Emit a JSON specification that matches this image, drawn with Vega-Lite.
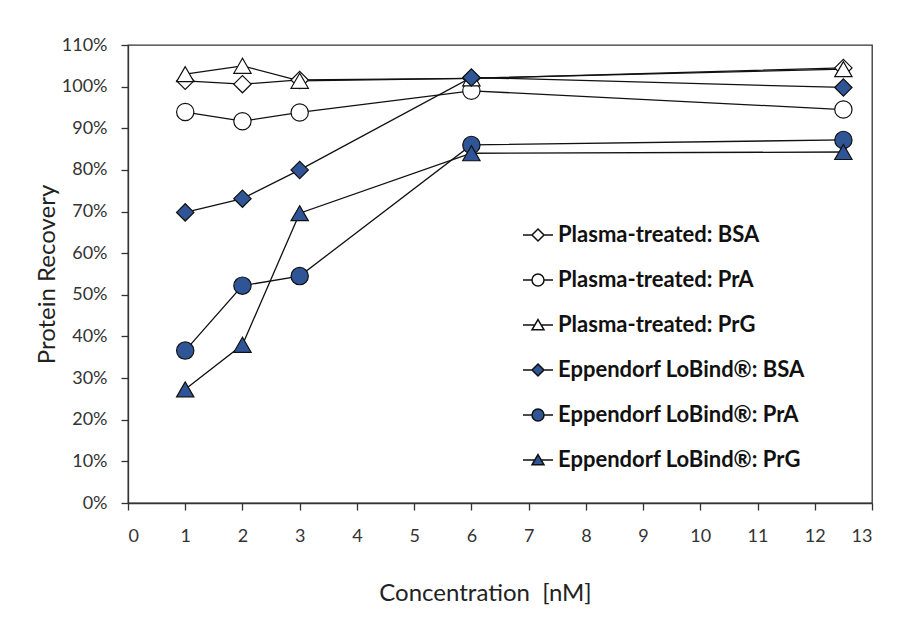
{
  "$schema": "https://vega.github.io/schema/vega-lite/v6.json",
  "autosize": {"type": "none"},
  "width": 744,
  "height": 458,
  "padding": {"left": 128, "top": 45, "right": 28, "bottom": 118},
  "background": "white",
  "config": {
    "view": {"stroke": "#333333", "strokeWidth": 1.3},
    "font": "Lato",
    "axis": {
      "labelFont": "Lato", "titleFont": "Lato", "labelColor": "#333333", "titleColor": "#222222",
      "domainColor": "#333333", "tickColor": "#333333", "domainWidth": 1.3, "tickWidth": 1.3,
      "grid": false, "labelFontSize": 18, "titleFontSize": 24, "titleFontWeight": "normal"
    },
    "legend": {
      "labelFont": "Lato", "labelFontSize": 22, "labelFontWeight": "bold", "labelColor": "#111111", "labelLimit": 400
    }
  },
  "data": {
    "values": [
      {"series": "Plasma-treated: BSA", "conc": 1, "rec": 1.014},
      {"series": "Plasma-treated: BSA", "conc": 2, "rec": 1.006},
      {"series": "Plasma-treated: BSA", "conc": 3, "rec": 1.016},
      {"series": "Plasma-treated: BSA", "conc": 6, "rec": 1.020},
      {"series": "Plasma-treated: BSA", "conc": 12.5, "rec": 1.045},
      {"series": "Plasma-treated: PrA", "conc": 1, "rec": 0.939},
      {"series": "Plasma-treated: PrA", "conc": 2, "rec": 0.917},
      {"series": "Plasma-treated: PrA", "conc": 3, "rec": 0.938},
      {"series": "Plasma-treated: PrA", "conc": 6, "rec": 0.990},
      {"series": "Plasma-treated: PrA", "conc": 12.5, "rec": 0.945},
      {"series": "Plasma-treated: PrG", "conc": 1, "rec": 1.030},
      {"series": "Plasma-treated: PrG", "conc": 2, "rec": 1.050},
      {"series": "Plasma-treated: PrG", "conc": 3, "rec": 1.014},
      {"series": "Plasma-treated: PrG", "conc": 6, "rec": 1.020},
      {"series": "Plasma-treated: PrG", "conc": 12.5, "rec": 1.042},
      {"series": "Eppendorf LoBind®: BSA", "conc": 1, "rec": 0.698},
      {"series": "Eppendorf LoBind®: BSA", "conc": 2, "rec": 0.731},
      {"series": "Eppendorf LoBind®: BSA", "conc": 3, "rec": 0.800},
      {"series": "Eppendorf LoBind®: BSA", "conc": 6, "rec": 1.022},
      {"series": "Eppendorf LoBind®: BSA", "conc": 12.5, "rec": 0.998},
      {"series": "Eppendorf LoBind®: PrA", "conc": 1, "rec": 0.366},
      {"series": "Eppendorf LoBind®: PrA", "conc": 2, "rec": 0.522},
      {"series": "Eppendorf LoBind®: PrA", "conc": 3, "rec": 0.545},
      {"series": "Eppendorf LoBind®: PrA", "conc": 6, "rec": 0.860},
      {"series": "Eppendorf LoBind®: PrA", "conc": 12.5, "rec": 0.872},
      {"series": "Eppendorf LoBind®: PrG", "conc": 1, "rec": 0.273},
      {"series": "Eppendorf LoBind®: PrG", "conc": 2, "rec": 0.380},
      {"series": "Eppendorf LoBind®: PrG", "conc": 3, "rec": 0.696},
      {"series": "Eppendorf LoBind®: PrG", "conc": 6, "rec": 0.840},
      {"series": "Eppendorf LoBind®: PrG", "conc": 12.5, "rec": 0.843}
    ]
  },
  "encoding": {
    "x": {
      "field": "conc", "type": "quantitative",
      "scale": {"domain": [0, 13], "nice": false},
      "axis": {"values": [0,1,2,3,4,5,6,7,8,9,10,11,12,13], "tickSize": 7, "labelPadding": 17, "title": "Concentration\u00a0 [nM]", "titlePadding": 36, "titleX": 357}
    },
    "y": {
      "field": "rec", "type": "quantitative",
      "scale": {"domain": [0, 1.1], "nice": false},
      "axis": {"values": [0,0.1,0.2,0.3,0.4,0.5,0.6,0.7,0.8,0.9,1.0,1.1], "format": ".0%", "tickSize": 7, "labelPadding": 14, "title": "Protein Recovery", "titlePadding": 2}
    }
  },
  "layer": [
    {
      "mark": {"type": "line", "color": "#111111", "strokeWidth": 1.3},
      "encoding": {"detail": {"field": "series"}}
    },
    {
      "mark": {"type": "point", "filled": true, "size": 300, "stroke": "#111111", "strokeWidth": 1.2, "opacity": 1},
      "encoding": {
        "shape": {
          "field": "series", "type": "nominal",
          "scale": {
            "domain": ["Plasma-treated: BSA", "Plasma-treated: PrA", "Plasma-treated: PrG", "Eppendorf LoBind®: BSA", "Eppendorf LoBind®: PrA", "Eppendorf LoBind®: PrG"],
            "range": ["diamond", "circle", "triangle-up", "diamond", "circle", "triangle-up"]
          },
          "legend": null
        },
        "fill": {
          "field": "series", "type": "nominal",
          "scale": {
            "domain": ["Plasma-treated: BSA", "Plasma-treated: PrA", "Plasma-treated: PrG", "Eppendorf LoBind®: BSA", "Eppendorf LoBind®: PrA", "Eppendorf LoBind®: PrG"],
            "range": ["white", "white", "white", "#2F5597", "#2F5597", "#2F5597"]
          },
          "legend": null
        }
      }
    },
    {
      "transform": [{"filter": "false"}],
      "mark": {"type": "point", "filled": true, "size": 144, "stroke": "#111111", "strokeWidth": 1.2, "opacity": 1},
      "encoding": {
        "shape": {
          "field": "series", "type": "nominal",
          "scale": {
            "domain": ["Plasma-treated: BSA", "Plasma-treated: PrA", "Plasma-treated: PrG", "Eppendorf LoBind®: BSA", "Eppendorf LoBind®: PrA", "Eppendorf LoBind®: PrG"],
            "range": [
              "M0,-1L1,0L0,1L-1,0Z M-2.5,0H-1 M1,0H2.5",
              "M1,0A1,1 0 1,1 -1,0A1,1 0 1,1 1,0Z M-2.5,0H-1 M1,0H2.5",
              "M0,-0.9L1,0.8L-1,0.8Z M-2.5,0H-0.53 M0.53,0H2.5",
              "M0,-1L1,0L0,1L-1,0Z M-2.5,0H-1 M1,0H2.5",
              "M1,0A1,1 0 1,1 -1,0A1,1 0 1,1 1,0Z M-2.5,0H-1 M1,0H2.5",
              "M0,-0.9L1,0.8L-1,0.8Z M-2.5,0H-0.53 M0.53,0H2.5"
            ]
          },
          "legend": {
            "title": null, "orient": "none", "legendX": 399, "legendY": 179, "padding": 0,
            "symbolSize": 144, "labelOffset": 9, "rowPadding": 23,
            "encode": {"symbols": {"stroke": {"value": "#111111"}, "strokeWidth": {"value": 1.2}, "opacity": {"value": 1}}}
          }
        },
        "fill": {
          "field": "series", "type": "nominal",
          "scale": {
            "domain": ["Plasma-treated: BSA", "Plasma-treated: PrA", "Plasma-treated: PrG", "Eppendorf LoBind®: BSA", "Eppendorf LoBind®: PrA", "Eppendorf LoBind®: PrG"],
            "range": ["white", "white", "white", "#2F5597", "#2F5597", "#2F5597"]
          },
          "legend": {
            "title": null, "orient": "none", "legendX": 399, "legendY": 179, "padding": 0,
            "symbolSize": 144, "labelOffset": 9, "rowPadding": 23,
            "encode": {"symbols": {"stroke": {"value": "#111111"}, "strokeWidth": {"value": 1.2}, "opacity": {"value": 1}}}
          }
        }
      }
    }
  ],
  "resolve": {"scale": {"shape": "independent", "fill": "independent"}, "legend": {"shape": "independent", "fill": "independent"}}
}
